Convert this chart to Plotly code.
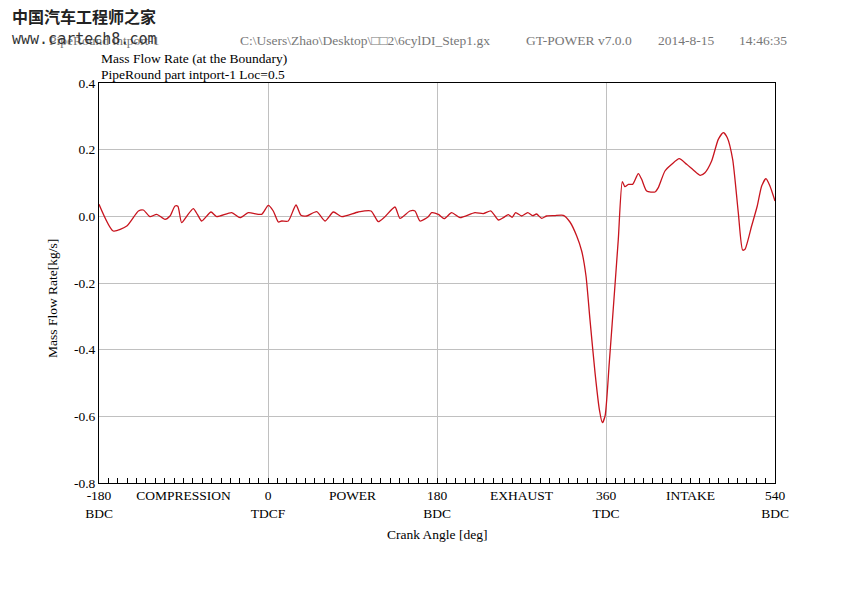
import plotly.graph_objects as go

# ---- data ----
crank_deg = [-180, -164.8, -150, -138, -132.8, -125.7, -118.6, -109.7, -104.4, -99, -96, -92, -86.6,
             -79.6, -75, -70.6, -60.7, -54.7, -38.7, -29.8, -21, -6.8, 0.3, 5.6, 11, 14.6, 21.6, 29.8,
             35.1, 41.2, 51.9, 60.7, 69.6, 78.5, 96.2, 109.7, 117.5, 124.6, 135.2, 140.6, 151.2, 156.5,
             161.9, 170.7, 174.3, 181.4, 187.8, 195.6, 204.5, 220.4, 229.3, 237.5, 245.3, 250.6, 256,
             260, 263.8, 270.2, 276.6, 282, 286, 291.5, 296.8, 305, 314.5, 321.6, 328.8, 334.1, 338.7,
             342.9, 348.3, 352.9, 356.1, 359, 363.5, 369.5, 373.1, 377.4, 380.2, 383.8, 388.4, 394.4,
             398, 403.3, 412.2, 415.7, 422.8, 430, 438, 445.9, 453, 460.1, 465.4, 472.5, 479.6, 485,
             489.2, 494.9, 500.9, 505.5, 508, 515.1, 521.1, 525.8, 530.4, 534.6, 540]
mass_flow = [0.036, -0.044, -0.028, 0.016, 0.019, -0.001, 0.006, -0.009, 0.001, 0.031, 0.030, -0.019, 0.0,
             0.023, 0.005, -0.014, 0.013, -0.001, 0.011, -0.004, 0.011, 0.006, 0.033, 0.016, -0.017, -0.014,
             -0.014, 0.034, 0.003, 0.001, 0.014, -0.014, 0.013, -0.001, 0.013, 0.016, -0.016, -0.001, 0.028,
             -0.006, 0.016, 0.016, -0.014, -0.001, 0.011, 0.006, -0.007, 0.011, -0.004, 0.011, 0.008, 0.016,
             -0.011, -0.004, 0.005, -0.003, 0.011, 0.001, 0.011, 0.002, 0.007, -0.006, 0.001, 0.002, 0.003,
             -0.017, -0.059, -0.104, -0.179, -0.309, -0.469, -0.579, -0.619, -0.599, -0.439, -0.209, -0.069,
             0.104, 0.089, 0.096, 0.096, 0.128, 0.111, 0.076, 0.073, 0.086, 0.136, 0.156, 0.173, 0.156, 0.139,
             0.123, 0.131, 0.166, 0.231, 0.251, 0.236, 0.171, 0.011, -0.101, -0.099, -0.029, 0.031, 0.091,
             0.113, 0.091, 0.046]

x_tick_vals = [-180, -90, 0, 90, 180, 270, 360, 450, 540]
x_tick_text = ["-180<br>BDC", "COMPRESSION", "0<br>TDCF", "POWER", "180<br>BDC",
               "EXHAUST", "360<br>TDC", "INTAKE", "540<br>BDC"]
x_grid_vals = [-180, 0, 180, 360, 540]
y_tick_vals = [0.4, 0.2, 0.0, -0.2, -0.4, -0.6, -0.8]
y_tick_text = ["0.4", "0.2", "0.0", "-0.2", "-0.4", "-0.6", "-0.8"]

FONT = "Liberation Serif, Times New Roman, serif"

fig = go.Figure()
fig.add_trace(go.Scatter(x=crank_deg, y=mass_flow, mode="lines",
                         line=dict(color="#c8141e", width=1.3, shape="spline", smoothing=0.6),
                         showlegend=False))
# invisible trace for grid axis
fig.add_trace(go.Scatter(x=[-180, 540], y=[0, 0], xaxis="x2", mode="lines",
                         line=dict(width=0), hoverinfo="skip", showlegend=False))

fig.update_layout(
    width=825, height=579,
    margin=dict(l=91, r=58, t=75, b=104),
    paper_bgcolor="white", plot_bgcolor="white",
    font=dict(family=FONT, size=13.5, color="black"),
    xaxis=dict(range=[-180, 540], tickmode="array", tickvals=x_tick_vals, ticktext=x_tick_text,
               showgrid=False, zeroline=False, showline=True, linecolor="black", linewidth=1,
               mirror=True, ticks="inside", ticklen=5, tickcolor="black",
               minor=dict(dtick=10, ticks="inside", ticklen=5, tickcolor="black", showgrid=False),
               tickfont=dict(family=FONT, size=13.5)),
    xaxis2=dict(range=[-180, 540], overlaying="x", tickmode="array", tickvals=x_grid_vals,
                showticklabels=False, showgrid=True, gridcolor="#c0c0c0", gridwidth=1,
                zeroline=False, showline=False, ticks=""),
    yaxis=dict(range=[-0.8, 0.4], tickmode="array", tickvals=y_tick_vals, ticktext=y_tick_text,
               showgrid=True, gridcolor="#c0c0c0", gridwidth=1, zeroline=False,
               showline=True, linecolor="black", linewidth=1, mirror=True, ticks="",
               tickfont=dict(family=FONT, size=13.5)),
)

def px_x(p):
    return (p - 99) / 676.0

def px_y(p):
    return (484 - p) / 400.0

annos = [
    dict(text="中国汽车工程师之家", x=px_x(10), y=px_y(17), font=dict(family="Noto Sans CJK SC", size=16, color="#222222"), weight=True),
    dict(text="PipeRound intport-1", x=px_x(47), y=px_y(41), font=dict(family=FONT, size=13.5, color="#777777")),
    dict(text="www.cartech8.com", x=px_x(10), y=px_y(40), font=dict(family="DejaVu Sans Mono", size=15, color="#333333")),
    dict(text="C:\\Users\\Zhao\\Desktop\\□□2\\6cylDI_Step1.gx", x=px_x(238), y=px_y(41), font=dict(family=FONT, size=13.5, color="#777777")),
    dict(text="GT-POWER v7.0.0", x=px_x(524), y=px_y(41), font=dict(family=FONT, size=13.5, color="#777777")),
    dict(text="2014-8-15", x=px_x(656), y=px_y(41), font=dict(family=FONT, size=13.5, color="#777777")),
    dict(text="14:46:35", x=px_x(737), y=px_y(41), font=dict(family=FONT, size=13.5, color="#777777")),
    dict(text="Mass Flow Rate (at the Boundary)", x=px_x(99), y=px_y(59), font=dict(family=FONT, size=13.5, color="black")),
    dict(text="PipeRound part intport-1 Loc=0.5", x=px_x(99), y=px_y(75), font=dict(family=FONT, size=13.5, color="black")),
]
for a in annos:
    bold = a.pop("weight", False)
    if bold:
        a["text"] = "<b>" + a["text"] + "</b>"
    fig.add_annotation(xref="paper", yref="paper", xanchor="left", yanchor="middle",
                       showarrow=False, **a)

fig.add_annotation(text="Mass Flow Rate[kg/s]", xref="paper", yref="paper",
                   x=px_x(52), y=px_y(300), textangle=-90, showarrow=False,
                   xanchor="center", yanchor="middle", font=dict(family=FONT, size=13.5))
fig.add_annotation(text="Crank Angle [deg]", xref="paper", yref="paper",
                   x=px_x(437), y=px_y(535), showarrow=False,
                   xanchor="center", yanchor="middle", font=dict(family=FONT, size=13.5))

fig.write_html("out.html")
